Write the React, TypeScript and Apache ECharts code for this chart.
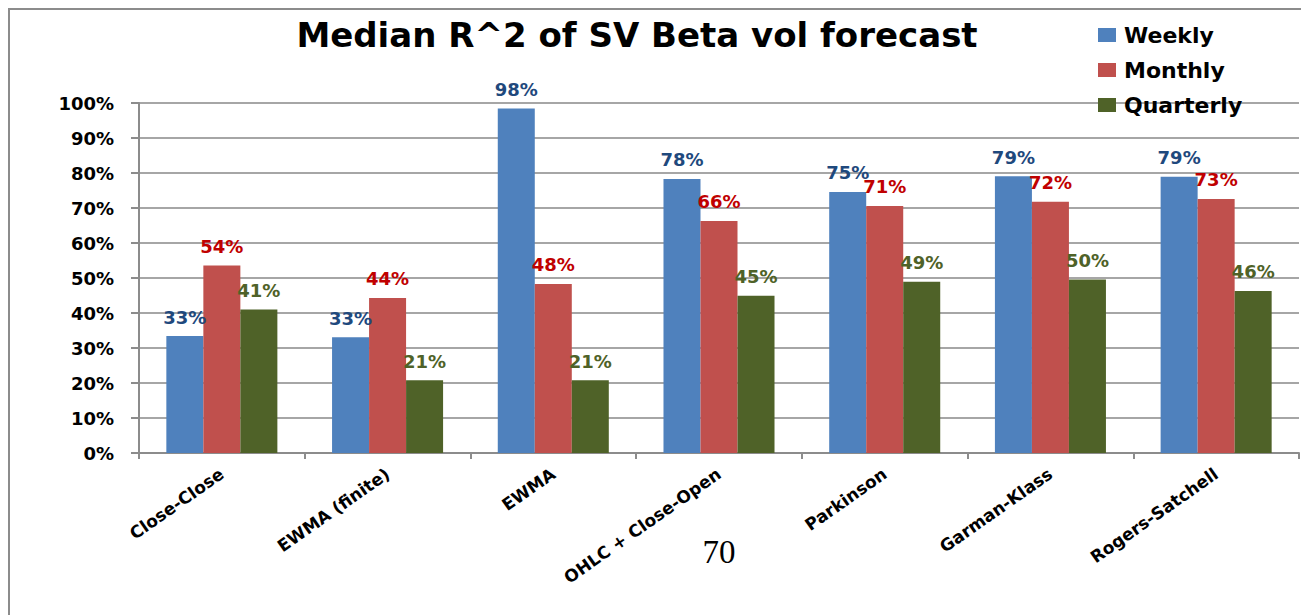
import React, { useEffect, useRef } from "react";
import * as echarts from "echarts";

const categories = [
  "Close-Close",
  "EWMA (finite)",
  "EWMA",
  "OHLC + Close-Open",
  "Parkinson",
  "Garman-Klass",
  "Rogers-Satchell",
];
const weekly = [0.334, 0.331, 0.984, 0.783, 0.746, 0.791, 0.789];
const monthly = [0.536, 0.443, 0.483, 0.663, 0.706, 0.718, 0.726];
const quarterly = [0.41, 0.208, 0.208, 0.449, 0.489, 0.496, 0.463];
const seriesNames = ["Weekly", "Monthly", "Quarterly"];
const yTicks = [0, 0.1, 0.2, 0.3, 0.4, 0.5, 0.6, 0.7, 0.8, 0.9, 1.0];
const titleText = "Median R^2 of SV Beta vol forecast";
const pageNumber = "70";

const FONT = "'DejaVu Sans', 'Open Sans', sans-serif";
const barColors = ["#4F81BD", "#C0504D", "#4F6228"];
const labelColors = ["#1F497D", "#C00000", "#4F6228"];

export default function App() {
  const ref = useRef<HTMLDivElement>(null);
  useEffect(() => {
    if (!ref.current) return;
    const chart = echarts.init(ref.current, undefined, { renderer: "svg" });
    const data = [weekly, monthly, quarterly];
    chart.setOption({
      animation: false,
      backgroundColor: "#ffffff",
      title: {
        text: titleText,
        left: 632,
        top: 13,
        textAlign: "center",
        textStyle: { fontFamily: FONT, fontWeight: "bold", fontSize: 34, color: "#000" },
      },
      legend: {
        orient: "vertical",
        left: 1093,
        top: 18,
        itemWidth: 18,
        itemHeight: 14,
        itemGap: 11,
        icon: "rect",
        data: seriesNames,
        textStyle: {
          fontFamily: FONT,
          fontWeight: "bold",
          fontSize: 22,
          lineHeight: 24,
          color: "#000",
          padding: [0, 0, 0, 3],
        },
      },
      grid: { left: 139, right: 2, top: 103, bottom: 162, containLabel: false },
      xAxis: {
        type: "category",
        data: categories,
        axisLine: { lineStyle: { color: "#8C8C8C", width: 2 } },
        axisTick: { show: true, length: 6, lineStyle: { color: "#8C8C8C", width: 2 } },
        axisLabel: {
          rotate: 35,
          interval: 0,
          margin: 19,
          fontFamily: FONT,
          fontWeight: "bold",
          fontSize: 17,
          color: "#000",
        },
      },
      yAxis: {
        type: "value",
        min: yTicks[0],
        max: yTicks[yTicks.length - 1],
        interval: 0.1,
        axisLine: { show: true, lineStyle: { color: "#8C8C8C", width: 2 } },
        axisTick: { show: true, length: 8, lineStyle: { color: "#8C8C8C", width: 2 } },
        splitLine: { lineStyle: { color: "#A6A6A6", width: 2 } },
        axisLabel: {
          margin: 25,
          fontFamily: FONT,
          fontWeight: "bold",
          fontSize: 18,
          color: "#000",
          formatter: (v: number) => Math.round(v * 100) + "%",
        },
      },
      series: seriesNames.map((name, i) => ({
        name,
        type: "bar",
        data: data[i],
        barGap: "0%",
        barCategoryGap: "33%",
        itemStyle: { color: barColors[i] },
        label: {
          show: true,
          position: "top",
          distance: 10,
          fontFamily: FONT,
          fontWeight: "bold",
          fontSize: 18,
          color: labelColors[i],
          formatter: (p: any) => Math.round(p.value * 100) + "%",
        },
      })),
      graphic: [
        {
          type: "rect",
          shape: { x: 9, y: 9, width: 1400, height: 800 },
          style: { fill: "none", stroke: "#8C8C8C", lineWidth: 2 },
          silent: true,
        },
        {
          type: "text",
          x: 719,
          y: 552,
          style: {
            text: pageNumber,
            align: "center",
            verticalAlign: "middle",
            font: "33px 'Liberation Serif', 'DejaVu Serif', serif",
            fill: "#000",
          },
        },
      ],
    });
    return () => chart.dispose();
  }, []);
  return (
    <div
      ref={ref}
      style={{ position: "fixed", left: 0, top: 0, width: 1301, height: 615 }}
    />
  );
}
